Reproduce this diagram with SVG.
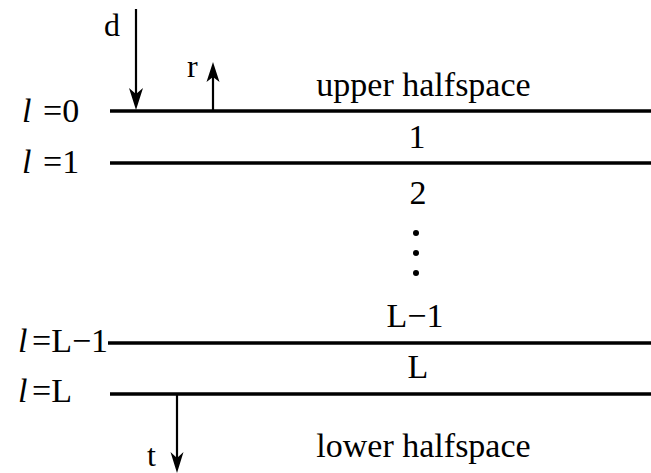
<svg xmlns="http://www.w3.org/2000/svg" width="651" height="473" viewBox="0 0 651 473">
<style>
text{font-family:"Liberation Serif","Times New Roman",serif;fill:#000;font-size:34px}
.m{text-anchor:middle}
.it{font-style:italic}
.s{font-size:32px}
.iface{stroke:#000;stroke-width:3.5;fill:none}
.arr{stroke:#000;stroke-width:2.2;fill:none}
.head{fill:#000;stroke:none}
</style>
<rect width="651" height="473" fill="#fff"/>
<g id="interfaces">
<line class="iface" x1="110" y1="111" x2="651" y2="111"/>
<line class="iface" x1="110" y1="163" x2="651" y2="163"/>
<line class="iface" x1="108" y1="343" x2="651" y2="343"/>
<line class="iface" x1="110" y1="394" x2="651" y2="394"/>
</g>
<g id="interface-labels">
<text class="it" x="22" y="122">l</text><text x="43" y="122">=0</text>
<text class="it" x="22" y="173">l</text><text x="43" y="173">=1</text>
<text class="it" x="18" y="352">l</text><text x="32" y="352">=L−1</text>
<text class="it" x="18" y="402">l</text><text x="32" y="402">=L</text>
</g>
<g id="layer-labels">
<text class="m" x="423.5" y="96">upper halfspace</text>
<text class="m" x="417" y="148">1</text>
<text class="m" x="418" y="204">2</text>
<circle cx="416" cy="233" r="3"/>
<circle cx="416" cy="253" r="3"/>
<circle cx="416" cy="273" r="3"/>
<text class="m" x="415" y="327">L−1</text>
<text class="m" x="418" y="378">L</text>
<text class="m" x="423.5" y="457">lower halfspace</text>
</g>
<g id="connectors">
<line class="arr" x1="136" y1="9" x2="136" y2="96"/>
<path class="head" d="M136,110 L129,88 L136,94 L143,88 Z"/>
<line class="arr" x1="213" y1="111" x2="213" y2="77"/>
<path class="head" d="M213,62 L206.5,82 L213,77 L219.5,82 Z"/>
<line class="arr" x1="177" y1="394" x2="177" y2="460"/>
<path class="head" d="M177,473 L170.5,452 L177,458 L183.5,452 Z"/>
</g>
<g id="arrow-labels">
<text class="s" x="104" y="36">d</text>
<text class="s" x="187" y="77">r</text>
<text class="s" x="147" y="466">t</text>
</g>
</svg>
